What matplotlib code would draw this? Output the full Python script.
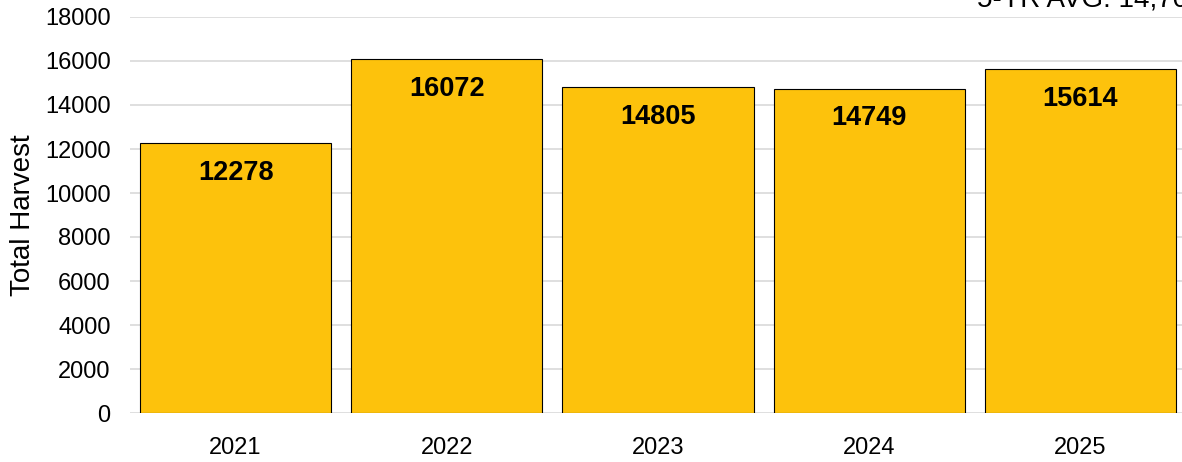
import matplotlib.pyplot as plt

plt.rcParams['font.family'] = ['Liberation Sans', 'DejaVu Sans']

years = ['2021', '2022', '2023', '2024', '2025']
harvest = [12278, 16072, 14805, 14749, 15614]
avg_label = '5-YR AVG: 14,704'

fig = plt.figure(figsize=(11.82, 4.62), dpi=100)
ax = fig.add_axes([130 / 1182, 49 / 462, 1056 / 1182, 396 / 462])

x = list(range(len(years)))
bars = ax.bar(x, harvest, width=0.905, color='#FDC20C', edgecolor='black', linewidth=0.8, zorder=3)

# labels inside top of each bar
for xi, v in zip(x, harvest):
    ax.annotate(str(v), (xi, v), xytext=(0, -21.5), textcoords='offset points',
                ha='center', va='center', fontsize=19.5, fontweight='bold')

ax.set_xlim(-0.5, 4.5)
ax.set_ylim(0, 18000)
ax.set_yticks(range(0, 18001, 2000))
ax.set_xticks(x)
ax.set_xticklabels(years)
ax.tick_params(axis='both', length=0, labelsize=17)
ax.tick_params(axis='x', pad=17)
ax.tick_params(axis='y', pad=14)
ax.grid(axis='y', color='#D9D9D9', linewidth=1.2, zorder=0)
for s in ax.spines.values():
    s.set_visible(False)
ax.set_ylabel('Total Harvest', fontsize=20, labelpad=6)

fig.text(977 / 1182, 1 - 6 / 462, avg_label, fontsize=20, va='baseline', ha='left')

fig.savefig('out.png', dpi=100)
